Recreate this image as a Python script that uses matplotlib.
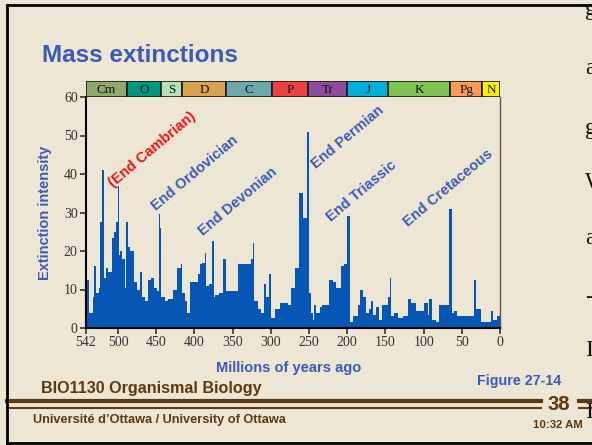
import numpy as np
import matplotlib
matplotlib.use('Agg')
import matplotlib.pyplot as plt
from matplotlib.lines import Line2D

# extinction intensity, step bins (Ma, oldest first)
edges_ma = [542, 538.6, 533.3, 531.1, 529, 525.4, 523.2, 521, 519, 516, 513,
            508, 505.7, 503, 500.5, 498.7, 497, 494.3, 490.4, 489, 487.3,
            483.8, 479.4, 475, 471.5, 468.4, 465.4, 461, 457.5, 453, 449,
            446.5, 445.2, 443.4, 439, 434.6, 428, 422.4, 418, 415.8, 412.3,
            409.2, 405.7, 396, 392.5, 389.5, 386.4, 384.6, 380.7, 377.6, 375,
            373.2, 367.5, 363.2, 358.8, 343.4, 326, 324, 321.5, 317, 312.7,
            309.2, 306, 303, 299.6, 295, 288.6, 277.6, 274, 268, 263.6,
            258, 252.2, 250.5, 247.5, 245, 243, 240.5, 236, 232.6, 224,
            218.7, 214.3, 207.8, 204.8, 200.5, 196.5, 192.6, 186, 183, 179.6,
            176, 171.7, 168.7, 166.5, 162.2, 157.8, 154.3, 147, 144, 142.6,
            138.3, 134, 127.4, 121, 116.5, 110, 99, 94.8, 92.6, 89.6,
            84, 80.4, 67.4, 63, 60, 55.7, 51.3, 34, 32, 25.2,
            12.2, 9.1, 3.5, 0]
intensity = [12.5, 4, 8, 16, 9, 10.5, 27.5, 41, 13, 15.5,
             14.5, 23.5, 25, 27.5, 37, 19, 20, 18, 10.5, 27.5,
             21, 20, 12, 10, 14.5, 8, 7, 12.5, 13, 10.5,
             9.5, 29.5, 26, 8, 7, 7.5, 10, 15.5, 16.5, 9,
             7, 4, 12, 14, 16.5, 17, 19.5, 11, 11.5, 22.5,
             8, 8.5, 9, 18, 9.5, 16.5, 18, 22, 7, 5,
             4, 11.5, 8, 14, 2.5, 5, 6.5, 6, 10.5, 15.5,
             35, 28.5, 51, 9, 4, 2, 6, 4, 5.5, 6,
             12.5, 12, 10.5, 16, 16.5, 29, 1.5, 3, 6, 10,
             8, 4, 5, 7, 3.5, 5.5, 2, 6, 8, 13,
             3, 4, 2.5, 3, 7.5, 6.5, 4.5, 6.5, 3.5, 7.5,
             2, 1.5, 6, 31, 4, 4.5, 3, 3, 12.5, 5,
             1.5, 4.5, 2, 3]

periods = ['Cm', 'O', 'S', 'D', 'C', 'P', 'Tr', 'J', 'K', 'Pg', 'N']
period_edges = [542, 488, 444, 416, 359, 299, 251, 200, 146, 65.5, 23, 0]
period_colors = ['#8FA86C', '#00977F', '#B4E2B8', '#D9A253', '#6AAAAE', '#EE4141',
                 '#8C4E9A', '#00AEDB', '#7DC552', '#F99B56', '#FFEF00']

events = ['(End Cambrian)', 'End Ordovician', 'End Devonian', 'End Permian',
          'End Triassic', 'End Cretaceous']
event_pos = [(507, 36.5), (451, 30.4), (389, 24.0), (241, 41.4), (221.5, 27.6), (120.5, 26.3)]
event_colors = ['#F21010', '#3C5AB9', '#3C5AB9', '#3C5AB9', '#3C5AB9', '#3C5AB9']

xticks = [542, 500, 450, 400, 350, 300, 250, 200, 150, 100, 50, 0]
yticks = [0, 10, 20, 30, 40, 50, 60]

W, H = 592, 445
bg = '#EDE6D4'
blue = '#3C5AB9'
brown = '#5E3810'
bar_blue = '#0657B5'
sans = ['Liberation Sans', 'DejaVu Sans']
serif = ['Liberation Serif', 'DejaVu Serif']


def fx(px):
    return px / W


def fy(py):
    return 1 - py / H


fig = plt.figure(figsize=(W / 100, H / 100), dpi=100, facecolor=bg)

# main chart
ax = fig.add_axes([fx(86), fy(328), fx(500) - fx(86), fy(97) - fy(328)])
ax.set_facecolor(bg)
ax.stairs(intensity[::-1], edges_ma[::-1], fill=True, color=bar_blue, lw=0)
ax.set_xlim(542, 0)
ax.set_ylim(0, 60)
ax.set_xticks(xticks)
ax.set_yticks(yticks)
ax.tick_params(direction='out', length=4, width=1.2, colors='#333333', labelsize=10, pad=2)
for lab in ax.get_xticklabels() + ax.get_yticklabels():
    lab.set_family(serif)
ax.spines['top'].set_visible(False)
ax.spines['right'].set_color('#555555')
ax.spines['right'].set_linewidth(1)
ax.spines['left'].set_linewidth(1.5)
ax.spines['bottom'].set_linewidth(1.5)

for txt, (x, y), c in zip(events, event_pos, event_colors):
    ax.text(x, y, txt, rotation=40, rotation_mode='anchor', ha='left', va='baseline',
            color=c, fontsize=10.5, fontweight='bold', family=sans)

# geologic period bar
tb = fig.add_axes([fx(86), fy(97), fx(500) - fx(86), fy(81) - fy(97)])
tb.set_xlim(542, 0)
tb.set_ylim(0, 1)
tb.axis('off')
for i, name in enumerate(periods):
    a, b = period_edges[i], period_edges[i + 1]
    tb.axvspan(b, a, 0, 1, facecolor=period_colors[i], edgecolor='#1A1A1A', lw=1.2)
    tb.text((a + b) / 2, 0.45, name, ha='center', va='center', fontsize=9.5,
            family=serif, color='#111111')

# labels
fig.text(fx(45), fy(213), 'Extinction intensity', rotation=90, ha='center', va='center',
         color=blue, fontsize=10.5, fontweight='bold', family=sans)
fig.text(fx(289), fy(368), 'Millions of years ago', ha='center', va='center',
         color=blue, fontsize=10.5, fontweight='bold', family=sans)
fig.text(fx(42), fy(56), 'Mass extinctions', ha='left', va='center',
         color=blue, fontsize=17.5, fontweight='bold', family=sans)
fig.text(fx(519), fy(381), 'Figure 27-14', ha='center', va='center',
         color=blue, fontsize=10.3, fontweight='bold', family=sans)

# slide footer
fig.text(fx(41), fy(389), 'BIO1130 Organismal Biology', ha='left', va='center',
         color=brown, fontsize=11.6, fontweight='bold', family=sans)
fig.text(fx(33), fy(420), 'Université d\u2019Ottawa / University of Ottawa', ha='left', va='center',
         color=brown, fontsize=9.2, fontweight='bold', family=sans)
fig.text(fx(559), fy(405), '38', ha='center', va='center',
         color=brown, fontsize=14.5, fontweight='bold', family=sans)
fig.text(fx(558), fy(425), '10:32 AM', ha='center', va='center',
         color=brown, fontsize=8.2, fontweight='bold', family=sans)

for y, lw in [(401, 3), (407.5, 1.5)]:
    fig.add_artist(Line2D([fx(7), fx(541)], [fy(y), fy(y)], color=brown, lw=lw))
    fig.add_artist(Line2D([fx(579), fx(592)], [fy(y), fy(y)], color=brown, lw=lw))

# slide frame
fig.add_artist(Line2D([fx(7), fx(592)], [fy(4.5), fy(4.5)], color='black', lw=2))
fig.add_artist(Line2D([fx(7), fx(7)], [fy(4.5), fy(443)], color='black', lw=2))
fig.add_artist(Line2D([fx(7), fx(592)], [fy(443), fy(443)], color='black', lw=2))

# overflow text from the neighbouring slide (cut at the right edge, as in the slide)
for ch, y in zip(['g', 'a', 'g', 'W', 'a', '-', 'I', 'I'],
                 [10, 68, 128, 183, 238, 298, 350, 412]):
    fig.text(fx(585), fy(y), ch, ha='left', va='center', fontsize=17,
             family=serif, color='#111111')

fig.savefig('out.png', dpi=100, facecolor=bg)
